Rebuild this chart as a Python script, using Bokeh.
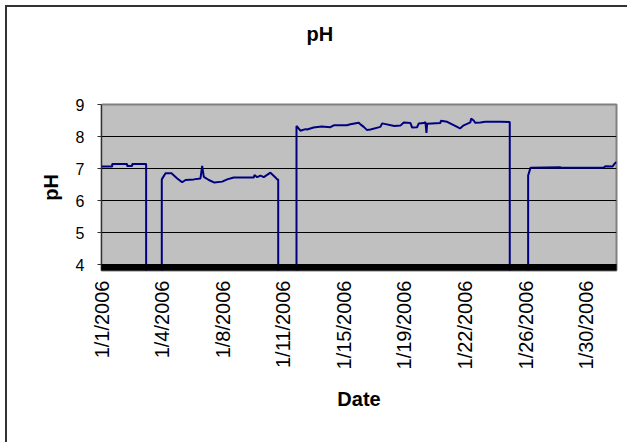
import math
from bokeh.plotting import figure
from bokeh.models import Range1d, FixedTicker, BoxAnnotation, Title, LinearAxis
from bokeh.embed import file_html
from bokeh.resources import INLINE

# sample index (60 readings per tick label) and pH reading (0 = probe offline)
sample = [0, 10.6, 10.6, 25.4, 25.4, 30.4, 30.4, 44.2, 44.2,
          59.7, 59.7, 63.4, 69.3, 75, 79.9, 83.2, 91.4, 98, 99.7, 101.3, 106.3, 111.9,
          119.5, 124.5, 131, 150.8, 151.5, 154.1, 157.4, 160.7, 167.3, 172.3, 174, 175, 175,
          193.1, 193.1, 197, 202, 203.6, 210, 218, 226.7, 230, 243, 246.5, 254.8, 256.4,
          259.7, 263, 266.3, 276.2, 277.9, 290, 296, 299.3, 306, 307.6, 312.5, 314.2,
          319.1, 320.8, 321.8, 322.5, 335.6, 336, 342.3, 352.2, 355, 358.7, 365.3, 366,
          368.6, 370, 375.2, 380, 395, 404.3, 404.3,
          422.5, 422.5, 424.8, 454, 456, 497, 499, 506, 508, 510]
ph = [7.06, 7.06, 7.14, 7.14, 7.08, 7.08, 7.14, 7.14, 0,
      0, 6.66, 6.85, 6.85, 6.69, 6.57, 6.64, 6.66, 6.69, 7.08, 6.74, 6.64, 6.56,
      6.59, 6.66, 6.72, 6.72, 6.8, 6.73, 6.78, 6.73, 6.87, 6.72, 6.66, 6.66, 0,
      0, 8.33, 8.18, 8.23, 8.22, 8.28, 8.31, 8.29, 8.35, 8.35, 8.38, 8.43, 8.38,
      8.3, 8.2, 8.22, 8.3, 8.41, 8.33, 8.34, 8.44, 8.42, 8.28, 8.29, 8.41,
      8.42, 8.45, 8.11, 8.4, 8.42, 8.49, 8.46, 8.3, 8.25, 8.35, 8.44, 8.56,
      8.5, 8.43, 8.44, 8.46, 8.46, 8.45, 0,
      0, 6.78, 7.02, 7.04, 7.02, 7.02, 7.07, 7.06, 7.15, 7.2]

tick_pos = [0, 60, 120, 180, 240, 300, 360, 420, 480]
tick_labels = ["1/1/2006", "1/4/2006", "1/8/2006", "1/11/2006", "1/15/2006",
               "1/19/2006", "1/22/2006", "1/26/2006", "1/30/2006"]
y_ticks = [4, 5, 6, 7, 8, 9]

FONT = "Liberation Sans"

p = figure(width=622, height=437, output_backend="svg", toolbar_location=None,
           x_range=Range1d(0, 510), y_range=Range1d(3.8125, 9),
           min_border_left=94, min_border_right=13, min_border_top=97,
           min_border_bottom=174)
p.styles = {"position": "relative", "left": "7px", "top": "7px",
            "box-shadow": "-2px -2px 0px 0px #333333"}

p.background_fill_color = "#c0c0c0"
p.border_fill_color = "white"
p.outline_line_color = "#808080"
p.outline_line_width = 2

p.line(sample, ph, line_color="#000080", line_width=2)

# thick black category axis band below pH 4
p.add_layout(BoxAnnotation(top=4, fill_color="black", fill_alpha=1,
                           line_color="black", line_alpha=1))

# blank spacer between plot area and title: one white tick, empty label
spacer = LinearAxis(ticker=FixedTicker(ticks=[tick_pos[0]]), axis_line_color=None,
                    major_tick_out=58, major_tick_in=0, minor_tick_out=0,
                    minor_tick_in=0, major_label_standoff=0,
                    major_label_overrides={tick_pos[0]: ""},
                    major_label_text_font_size="0px",
                    major_tick_line_color="white", minor_tick_line_color=None)
p.add_layout(spacer, "above")

# title
t = Title(text="pH", align="left", vertical_align="top", offset=205, standoff=0,
          text_font=FONT, text_font_size="20px", text_font_style="bold",
          text_color="black")
p.add_layout(t, "above")

p.xgrid.visible = False
p.ygrid.ticker = FixedTicker(ticks=y_ticks)
p.ygrid.grid_line_color = "black"
p.ygrid.grid_line_width = 1

xa = p.below[0]
xa.ticker = FixedTicker(ticks=tick_pos)
xa.major_label_overrides = {tp: lab for tp, lab in zip(tick_pos, tick_labels)}
xa.major_label_orientation = math.pi / 2
xa.major_label_text_font = FONT
xa.major_label_text_font_size = "20px"
xa.major_label_text_color = "black"
xa.major_label_standoff = 10
xa.major_tick_out = 0
xa.major_tick_in = 0
xa.minor_tick_out = 0
xa.minor_tick_in = 0
xa.axis_line_color = None
xa.axis_label = "Date"
xa.axis_label_text_font = FONT
xa.axis_label_text_font_size = "20px"
xa.axis_label_text_font_style = "bold"
xa.axis_label_text_color = "black"
xa.axis_label_standoff = 16

ya = p.left[0]
ya.ticker = FixedTicker(ticks=y_ticks)
ya.major_label_text_font = FONT
ya.major_label_text_font_size = "16px"
ya.major_label_text_color = "black"
ya.major_label_standoff = 13
ya.major_tick_out = 4
ya.major_tick_in = 0
ya.minor_tick_out = 0
ya.minor_tick_in = 0
ya.major_tick_line_color = "#303030"
ya.axis_line_color = "#303030"
ya.axis_line_width = 1
ya.axis_label = "pH"
ya.axis_label_text_font = FONT
ya.axis_label_text_font_size = "20px"
ya.axis_label_text_font_style = "bold"
ya.axis_label_text_color = "black"
ya.axis_label_standoff = 11

open("out.html", "w").write(file_html(p, INLINE))
